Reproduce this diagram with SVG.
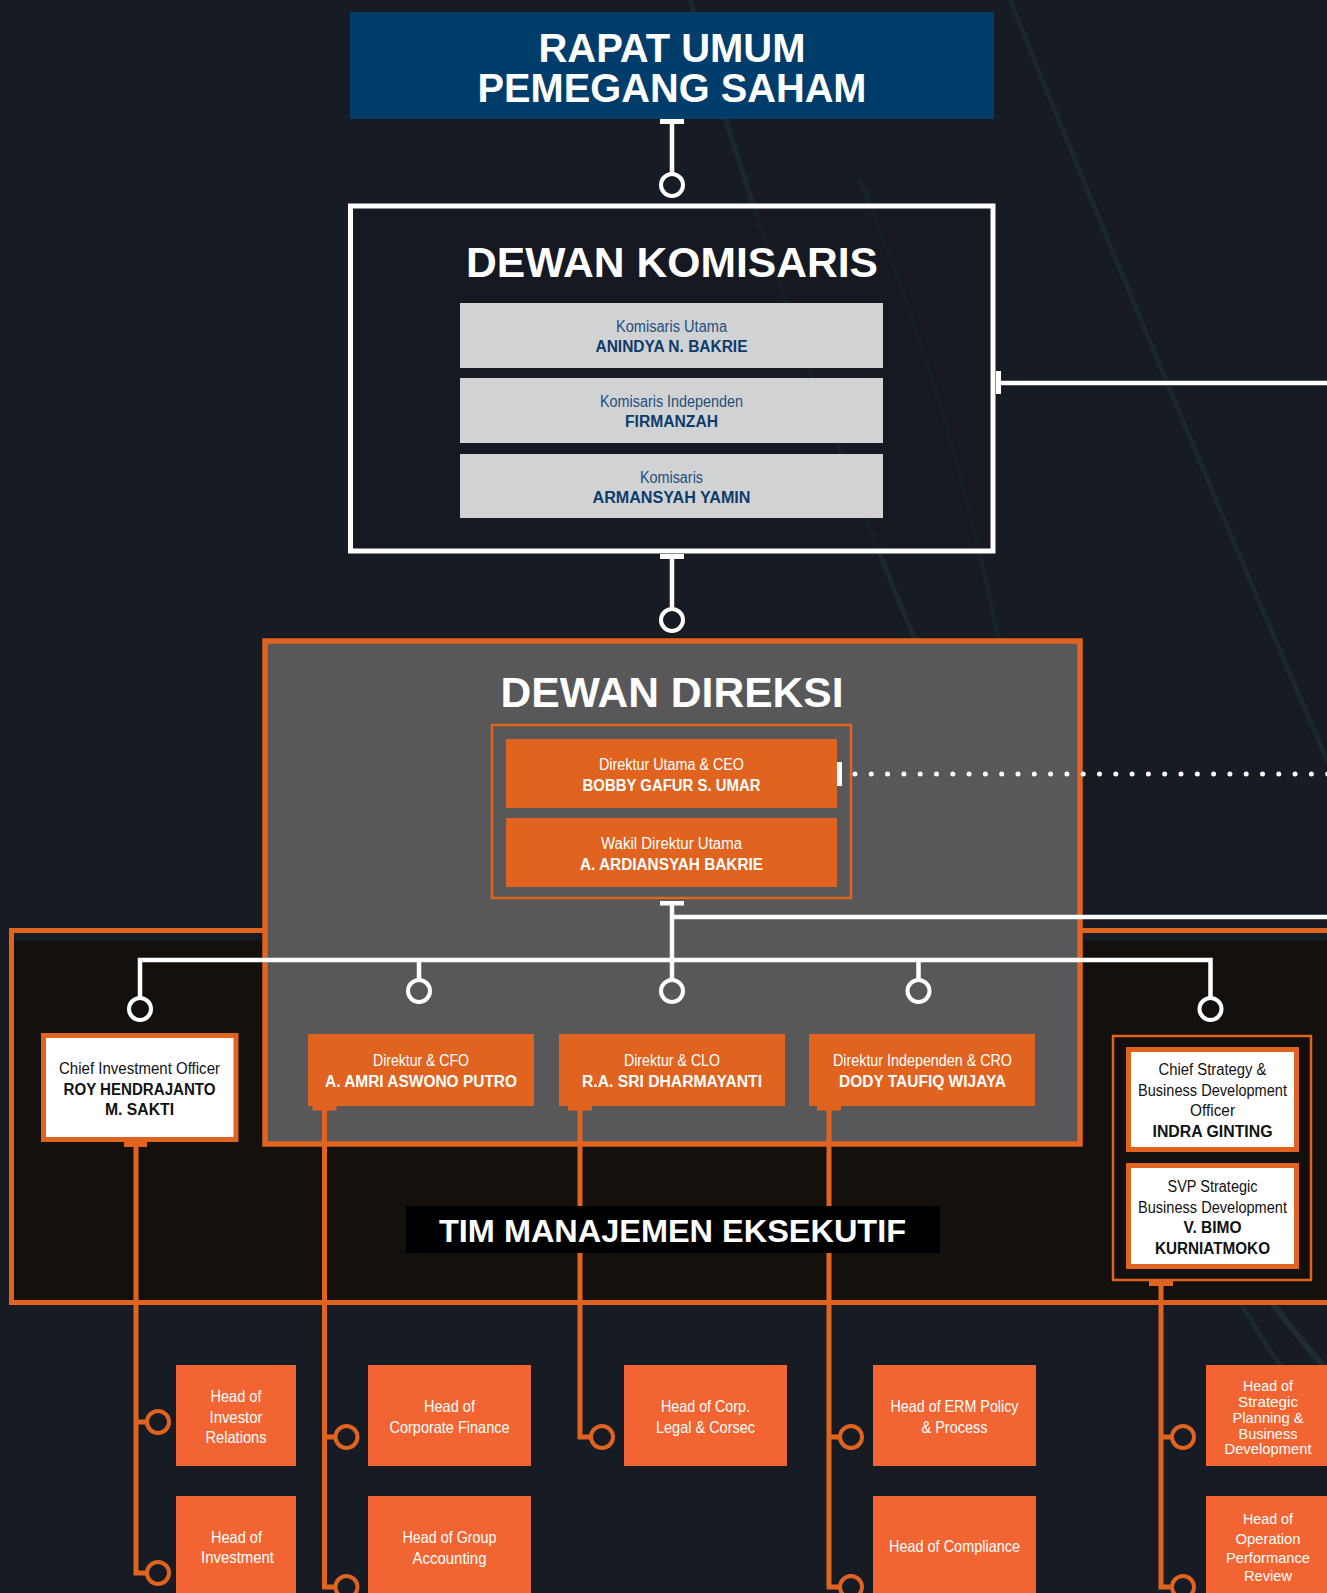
<svg xmlns="http://www.w3.org/2000/svg" width="1327" height="1593" viewBox="0 0 1327 1593">
<defs>
<style>
.h{font-family:"Liberation Sans",Arial,sans-serif;font-weight:bold;fill:#fff;text-anchor:middle}
.l{font-family:"Liberation Sans",Arial,sans-serif;font-size:16px;text-anchor:middle}
.n{font-family:"Liberation Sans",Arial,sans-serif;font-size:16px;font-weight:bold;text-anchor:middle}
.hd{font-family:"Liberation Sans",Arial,sans-serif;font-size:16.5px;fill:#fff;text-anchor:middle}
.hs{font-family:"Liberation Sans",Arial,sans-serif;font-size:15px;fill:#fff;text-anchor:middle}
.kb{fill:#1f4f7c}.kn{fill:#0d3c6a}
.w{fill:#fff}.b{fill:#111}
.ob{fill:#e0641f}
.hb{fill:#f26532}
.wl{stroke:#fff;stroke-width:4.5;fill:none}
.ol{stroke:#e0641f;stroke-width:5;fill:none}
.wc{stroke:#fff;stroke-width:4;fill:none}
.oc{stroke:#e0641f;stroke-width:4;fill:none}
</style>
</defs>
<rect width="1327" height="1593" fill="#171b24"/>
<g id="background" fill="none" stroke-linecap="round" stroke="#2b5a55">
<path d="M690 0 Q840 520 1080 1000 T1327 1390" stroke-width="5" opacity="0.22"/>
<path d="M1010 0 Q1180 420 1327 760" stroke-width="5" opacity="0.2"/>
<path d="M860 180 Q960 420 1010 700" stroke-width="4" opacity="0.15"/>
<path d="M1327 1370 Q1300 1340 1270 1300" stroke-width="6" opacity="0.3"/>
</g>

<g id="tim-frame">
<rect x="13.5" y="941" width="1320" height="359" fill="#14100e"/>
<rect x="11.5" y="930.5" width="1330" height="372" fill="none" stroke="#e0641f" stroke-width="5"/>
</g>

<g id="rups">
<rect x="350" y="12" width="644" height="107" fill="#003d6b"/>
<text class="h" x="672" y="62" font-size="40" textLength="267" lengthAdjust="spacingAndGlyphs">RAPAT UMUM</text>
<text class="h" x="672" y="102" font-size="40" textLength="389" lengthAdjust="spacingAndGlyphs">PEMEGANG SAHAM</text>
</g>

<g id="dewan-komisaris">
<rect x="350.5" y="206" width="642.5" height="345" fill="#151922" fill-opacity="0.6" stroke="#fff" stroke-width="5"/>
<text class="h" x="672" y="277" font-size="42" textLength="412" lengthAdjust="spacingAndGlyphs">DEWAN KOMISARIS</text>
<g id="komisaris-utama">
<rect x="460" y="303" width="423" height="65" fill="#d1d2d4"/>
<text class="l kb" x="671.5" y="332" textLength="111" lengthAdjust="spacingAndGlyphs">Komisaris Utama</text>
<text class="n kn" x="671.5" y="352" textLength="152" lengthAdjust="spacingAndGlyphs">ANINDYA N. BAKRIE</text>
</g>
<g id="komisaris-independen">
<rect x="460" y="378" width="423" height="65" fill="#d1d2d4"/>
<text class="l kb" x="671.5" y="407" textLength="143" lengthAdjust="spacingAndGlyphs">Komisaris Independen</text>
<text class="n kn" x="671.5" y="427" textLength="93" lengthAdjust="spacingAndGlyphs">FIRMANZAH</text>
</g>
<g id="komisaris">
<rect x="460" y="454" width="423" height="64" fill="#d1d2d4"/>
<text class="l kb" x="671.5" y="483" textLength="63" lengthAdjust="spacingAndGlyphs">Komisaris</text>
<text class="n kn" x="671.5" y="503" textLength="158" lengthAdjust="spacingAndGlyphs">ARMANSYAH YAMIN</text>
</g>
</g>

<g id="dewan-direksi">
<rect x="265" y="641" width="815" height="503" fill="#58585a" stroke="#e0641f" stroke-width="5.5"/>
<text class="h" x="672" y="707" font-size="42" textLength="343" lengthAdjust="spacingAndGlyphs">DEWAN DIREKSI</text>
<rect x="492" y="725" width="359" height="173" fill="none" stroke="#e0641f" stroke-width="2.5"/>
<g id="ceo">
<rect class="ob" x="506" y="739" width="331" height="69"/>
<text class="l w" x="671.5" y="770" textLength="145" lengthAdjust="spacingAndGlyphs">Direktur Utama &amp; CEO</text>
<text class="n w" x="671.5" y="791" textLength="178" lengthAdjust="spacingAndGlyphs">BOBBY GAFUR S. UMAR</text>
</g>
<g id="wakil-ceo">
<rect class="ob" x="506" y="818" width="331" height="69"/>
<text class="l w" x="671.5" y="849" textLength="141" lengthAdjust="spacingAndGlyphs">Wakil Direktur Utama</text>
<text class="n w" x="671.5" y="870" textLength="183" lengthAdjust="spacingAndGlyphs">A. ARDIANSYAH BAKRIE</text>
</g>
</g>

<g id="cfo">
<rect class="ob" x="308" y="1034" width="226" height="72"/>
<text class="l w" x="421" y="1066" textLength="96" lengthAdjust="spacingAndGlyphs">Direktur &amp; CFO</text>
<text class="n w" x="421" y="1087" textLength="192" lengthAdjust="spacingAndGlyphs">A. AMRI ASWONO PUTRO</text>
</g>
<g id="clo">
<rect class="ob" x="559" y="1034" width="226" height="72"/>
<text class="l w" x="672" y="1066" textLength="96" lengthAdjust="spacingAndGlyphs">Direktur &amp; CLO</text>
<text class="n w" x="672" y="1087" textLength="180" lengthAdjust="spacingAndGlyphs">R.A. SRI DHARMAYANTI</text>
</g>
<g id="cro">
<rect class="ob" x="809" y="1034" width="226" height="72"/>
<text class="l w" x="922.5" y="1066" textLength="179" lengthAdjust="spacingAndGlyphs">Direktur Independen &amp; CRO</text>
<text class="n w" x="922.5" y="1087" textLength="167" lengthAdjust="spacingAndGlyphs">DODY TAUFIQ WIJAYA</text>
</g>

<g id="cio">
<rect x="43.5" y="1035.5" width="192.5" height="104" fill="#fff" stroke="#e0641f" stroke-width="5"/>
<text class="l b" x="139.5" y="1074" textLength="161" lengthAdjust="spacingAndGlyphs">Chief Investment Officer</text>
<text class="n b" x="139.5" y="1095" textLength="152" lengthAdjust="spacingAndGlyphs">ROY HENDRAJANTO</text>
<text class="n b" x="139.5" y="1115" textLength="69" lengthAdjust="spacingAndGlyphs">M. SAKTI</text>
</g>

<g id="strategy-group">
<rect x="1113" y="1036" width="198" height="244" fill="none" stroke="#e0641f" stroke-width="2.5"/>
<g id="cso">
<rect x="1128.5" y="1049.5" width="168" height="100" fill="#fff" stroke="#e0641f" stroke-width="5"/>
<text class="l b" x="1212.5" y="1075" textLength="108" lengthAdjust="spacingAndGlyphs">Chief Strategy &amp;</text>
<text class="l b" x="1212.5" y="1095.5" textLength="149" lengthAdjust="spacingAndGlyphs">Business Development</text>
<text class="l b" x="1212.5" y="1116" textLength="45" lengthAdjust="spacingAndGlyphs">Officer</text>
<text class="n b" x="1212.5" y="1137" textLength="120" lengthAdjust="spacingAndGlyphs">INDRA GINTING</text>
</g>
<g id="svp">
<rect x="1128.5" y="1165.5" width="168" height="101" fill="#fff" stroke="#e0641f" stroke-width="5"/>
<text class="l b" x="1212.5" y="1192" textLength="90" lengthAdjust="spacingAndGlyphs">SVP Strategic</text>
<text class="l b" x="1212.5" y="1212.5" textLength="149" lengthAdjust="spacingAndGlyphs">Business Development</text>
<text class="n b" x="1212.5" y="1233" textLength="58" lengthAdjust="spacingAndGlyphs">V. BIMO</text>
<text class="n b" x="1212.5" y="1254" textLength="115" lengthAdjust="spacingAndGlyphs">KURNIATMOKO</text>
</g>
</g>

<g id="connectors">
<rect class="w" x="660" y="119" width="24" height="5"/>
<line class="wl" x1="672" y1="124" x2="672" y2="174"/>
<circle class="wc" cx="672" cy="185" r="11"/>
<rect class="w" x="660" y="554" width="24" height="5"/>
<line class="wl" x1="672" y1="559" x2="672" y2="609"/>
<circle class="wc" cx="672" cy="620" r="11"/>
<rect class="w" x="996" y="371" width="5" height="23"/>
<line class="wl" x1="1001" y1="383" x2="1327" y2="383"/>
<rect class="w" x="837" y="762" width="5" height="24"/>
<line x1="855" y1="774" x2="1330" y2="774" stroke="#fff" stroke-width="5" stroke-linecap="round" stroke-dasharray="0 16.3"/>
<rect class="w" x="660" y="901" width="24" height="4.5"/>
<line class="wl" x1="672" y1="905" x2="672" y2="980"/>
<line class="wl" x1="672" y1="917" x2="1327" y2="917"/>
<path class="wl" d="M140 998 V960 H1210.5 V998" stroke-width="4"/>
<line class="wl" x1="419" y1="960" x2="419" y2="980" stroke-width="4"/>
<line class="wl" x1="918.5" y1="960" x2="918.5" y2="980" stroke-width="4"/>
<circle class="wc" cx="140" cy="1009" r="11"/>
<circle class="wc" cx="419" cy="991" r="11"/>
<circle class="wc" cx="672" cy="991" r="11"/>
<circle class="wc" cx="918.5" cy="991" r="11"/>
<circle class="wc" cx="1210.5" cy="1009" r="11"/>
<rect class="ob" x="124" y="1142" width="23" height="5"/>
<path class="ol" d="M136 1147 V1573 H147"/>
<line class="ol" x1="136" y1="1422" x2="147" y2="1422"/>
<circle class="oc" cx="158" cy="1422" r="11"/>
<circle class="oc" cx="158" cy="1573" r="11"/>
<rect class="ob" x="312.5" y="1106" width="24" height="4.5"/>
<path class="ol" d="M324.5 1110 V1587 H335.5"/>
<line class="ol" x1="324.5" y1="1437" x2="335.5" y2="1437"/>
<circle class="oc" cx="346.5" cy="1437" r="11"/>
<circle class="oc" cx="346.5" cy="1587" r="11"/>
<rect class="ob" x="568" y="1106" width="24" height="4.5"/>
<path class="ol" d="M580 1110 V1437 H591"/>
<circle class="oc" cx="602" cy="1437" r="11"/>
<rect class="ob" x="817" y="1106" width="24" height="4.5"/>
<path class="ol" d="M829 1110 V1587 H840"/>
<line class="ol" x1="829" y1="1437" x2="840" y2="1437"/>
<circle class="oc" cx="851" cy="1437" r="11"/>
<circle class="oc" cx="851" cy="1587" r="11"/>
<rect class="ob" x="1149" y="1281" width="24" height="5"/>
<path class="ol" d="M1161 1286 V1587 H1172"/>
<line class="ol" x1="1161" y1="1437" x2="1172" y2="1437"/>
<circle class="oc" cx="1183" cy="1437" r="11"/>
<circle class="oc" cx="1183" cy="1587" r="11"/>
</g>

<g id="tim-label">
<rect x="406" y="1206" width="534" height="47" fill="#000"/>
<text class="h" x="672.5" y="1242" font-size="32" textLength="467" lengthAdjust="spacingAndGlyphs">TIM MANAJEMEN EKSEKUTIF</text>
</g>

<g id="head-investor-relations">
<rect class="hb" x="176" y="1365" width="120" height="101"/>
<text class="hd" x="236" y="1402" textLength="51" lengthAdjust="spacingAndGlyphs">Head of</text>
<text class="hd" x="236" y="1423" textLength="53" lengthAdjust="spacingAndGlyphs">Investor</text>
<text class="hd" x="236" y="1443" textLength="61" lengthAdjust="spacingAndGlyphs">Relations</text>
</g>
<g id="head-investment">
<rect class="hb" x="176" y="1496" width="120" height="100"/>
<text class="hd" x="236.5" y="1543" textLength="51" lengthAdjust="spacingAndGlyphs">Head of</text>
<text class="hd" x="237.5" y="1563" textLength="73" lengthAdjust="spacingAndGlyphs">Investment</text>
</g>
<g id="head-corporate-finance">
<rect class="hb" x="368" y="1365" width="163" height="101"/>
<text class="hd" x="449.5" y="1412" textLength="51" lengthAdjust="spacingAndGlyphs">Head of</text>
<text class="hd" x="449.5" y="1433" textLength="120" lengthAdjust="spacingAndGlyphs">Corporate Finance</text>
</g>
<g id="head-group-accounting">
<rect class="hb" x="368" y="1496" width="163" height="100"/>
<text class="hd" x="449.5" y="1543" textLength="94" lengthAdjust="spacingAndGlyphs">Head of Group</text>
<text class="hd" x="449.5" y="1564" textLength="74" lengthAdjust="spacingAndGlyphs">Accounting</text>
</g>
<g id="head-corp-legal">
<rect class="hb" x="624" y="1365" width="163" height="101"/>
<text class="hd" x="705.5" y="1412" textLength="89" lengthAdjust="spacingAndGlyphs">Head of Corp.</text>
<text class="hd" x="705.5" y="1433" textLength="99" lengthAdjust="spacingAndGlyphs">Legal &amp; Corsec</text>
</g>
<g id="head-erm">
<rect class="hb" x="873" y="1365" width="163" height="101"/>
<text class="hd" x="954.5" y="1412" textLength="128" lengthAdjust="spacingAndGlyphs">Head of ERM Policy</text>
<text class="hd" x="954.5" y="1433" textLength="66" lengthAdjust="spacingAndGlyphs">&amp; Process</text>
</g>
<g id="head-compliance">
<rect class="hb" x="873" y="1496" width="163" height="100"/>
<text class="hd" x="954.5" y="1552" textLength="131" lengthAdjust="spacingAndGlyphs">Head of Compliance</text>
</g>
<g id="head-strategic-planning">
<rect class="hb" x="1206" y="1365" width="125" height="101"/>
<text class="hs" x="1268" y="1391" textLength="50" lengthAdjust="spacingAndGlyphs">Head of</text>
<text class="hs" x="1268" y="1407" textLength="60" lengthAdjust="spacingAndGlyphs">Strategic</text>
<text class="hs" x="1268" y="1423" textLength="71" lengthAdjust="spacingAndGlyphs">Planning &amp;</text>
<text class="hs" x="1268" y="1438.5" textLength="59" lengthAdjust="spacingAndGlyphs">Business</text>
<text class="hs" x="1268" y="1454" textLength="87" lengthAdjust="spacingAndGlyphs">Development</text>
</g>
<g id="head-operation-performance">
<rect class="hb" x="1206" y="1496" width="125" height="100"/>
<text class="hs" x="1268" y="1524" textLength="50" lengthAdjust="spacingAndGlyphs">Head of</text>
<text class="hs" x="1268" y="1544" textLength="65" lengthAdjust="spacingAndGlyphs">Operation</text>
<text class="hs" x="1268" y="1563" textLength="84" lengthAdjust="spacingAndGlyphs">Performance</text>
<text class="hs" x="1268" y="1581" textLength="48" lengthAdjust="spacingAndGlyphs">Review</text>
</g>
</svg>
